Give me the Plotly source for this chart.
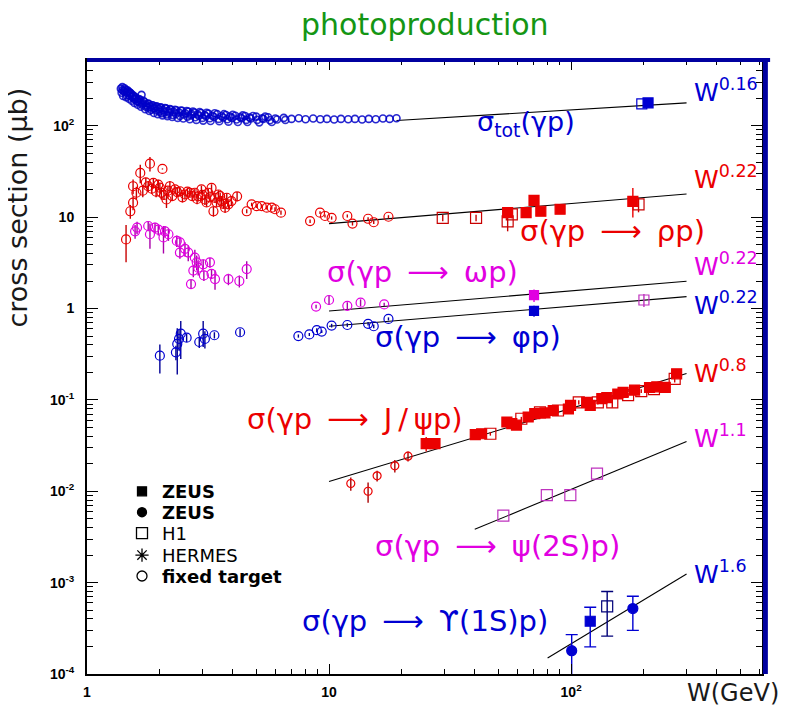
import numpy as np
import plotly.graph_objects as go

BLUE = 'rgb(0,0,210)'
RED = 'rgb(235,0,0)'
MAG = 'rgb(225,0,225)'
MAG2 = 'rgb(190,50,190)'
GREEN = 'rgb(20,150,20)'

# ---------------- data ----------------
# total photoproduction, fixed target (dense band)
tot_ft_W = [1.38, 1.40, 1.42, 1.44, 1.46, 1.48, 1.50, 1.52, 1.54, 1.56, 1.58, 1.60, 1.63, 1.66, 1.68,
            1.70, 1.73, 1.76, 1.80, 1.83, 1.87, 1.90, 1.94, 1.98, 2.02, 2.07, 2.12, 2.17, 2.22, 2.28,
            2.34, 2.40, 2.47, 2.54, 2.62, 2.70, 2.78, 2.87, 2.96, 3.06, 3.17, 3.30, 3.45, 3.60, 3.75,
            3.90, 4.10, 4.30, 4.50, 4.70, 5.00, 5.30, 5.60, 6.00, 6.50, 7.00, 7.50, 8.00, 8.60, 9.20,
            9.80, 10.5, 11.2, 12.0, 12.8, 13.7, 14.6, 15.6, 16.7, 17.8, 19.0]
tot_ft_S = [255, 265, 240, 250, 228, 238, 215, 225, 205, 212, 195, 200, 185, 192, 218,
            176, 182, 168, 174, 162, 168, 156, 163, 152, 159, 148, 155, 145, 151, 142,
            148, 140, 146, 137, 143, 135, 140, 133, 138, 131, 136, 129, 134, 127, 131,
            126, 129, 124, 128, 123, 126, 121, 124, 120, 122, 119, 121, 118, 120, 118,
            119, 117, 119, 118, 119, 117, 119, 118, 120, 119, 121]
tot_ft2_W = [1.39, 1.41, 1.43, 1.45, 1.47, 1.49, 1.51, 1.53, 1.55, 1.57, 1.59, 1.62, 1.64, 1.67, 1.71,
             1.74, 1.78, 1.81, 1.85, 1.89, 1.92, 1.96, 2.00, 2.05, 2.10, 2.15, 2.20, 2.25, 2.31, 2.37,
             2.44, 2.50, 2.58, 2.66, 2.74, 2.83, 2.92, 3.02, 3.12, 3.24, 3.37, 3.52, 3.68, 3.84, 4.00,
             4.20, 4.40, 4.60, 4.85, 5.15, 5.45, 5.80]
tot_ft2_S = [230, 212, 258, 205, 245, 198, 228, 188, 215, 178, 205, 170, 196, 162, 188,
             152, 175, 145, 168, 138, 162, 134, 158, 130, 156, 127, 152, 125, 150, 122,
             147, 120, 145, 118, 143, 116, 141, 114, 139, 113, 137, 112, 134, 111, 132,
             110, 130, 110, 128, 109, 126, 110]
tot_ft3_W = [1.40, 1.43, 1.46, 1.50, 1.53, 1.57, 1.61, 1.65, 1.69, 1.75, 1.79, 1.84, 1.88, 1.93, 1.99,
             2.04, 2.09, 2.14, 2.19, 2.26, 2.33, 2.42, 2.51, 2.60, 2.69, 2.80, 2.90, 3.00, 3.10, 3.22,
             3.35, 3.50, 3.65, 3.80, 3.97, 4.15, 4.35, 4.55, 4.75, 5.05, 5.35, 5.70, 6.10, 6.60]
tot_ft3_S = [245, 235, 215, 232, 208, 196, 186, 180, 170, 162, 158, 150, 155, 147, 143,
             137, 141, 133, 139, 131, 135, 128, 133, 126, 130, 124, 128, 122, 127, 121,
             125, 119, 123, 118, 122, 117, 121, 116, 120, 116, 119, 115, 117, 116]
tot_h1_W, tot_h1_S = [196], [174]
tot_zeus_W, tot_zeus_S = [208], [178]

# rho
rho_ft_W = [1.45, 1.51, 1.55, 1.55, 1.60, 1.66, 1.79, 1.82, 1.88, 1.97, 2.03, 2.05, 2.13, 2.20, 2.31,
            2.42, 2.54, 2.66, 2.79, 2.88, 2.97, 3.07, 3.17, 3.27, 3.38, 3.33, 3.49, 3.60, 3.72, 3.78,
            3.84, 4.17, 4.57, 4.79, 5.03, 5.27, 5.53, 5.80, 5.98, 6.33, 8.35, 9.18, 9.62, 10.25, 11.9,
            12.5, 14.5, 15.3, 17.6]
rho_ft_S = [5.7, 11.6, 14.4, 21.8, 18.5, 30.5, 21.8, 38.5, 23.7, 22.7, 18.5, 33.7, 15.6, 21.8, 20.1,
            19.2, 17.7, 18.5, 18.5, 16.9, 20.1, 15.6, 18.5, 20.9, 16.3, 11.6, 17.7, 15.0, 12.7, 16.3,
            13.8, 16.9, 11.6, 13.8, 13.2, 13.2, 12.7, 12.7, 12.2, 11.2, 9.05, 11.2, 10.3, 9.8, 10.3,
            8.5, 9.6, 8.8, 10.1]
rho_ft_E = [2.5, 2.0, 2.5, 4.0, 3.0, 7.0, 3.0, 7.0, 3.0, 3.0, 3.0, 0.5, 3.0, 3.0, 2.0,
            2.0, 2.0, 2.0, 2.0, 2.0, 2.0, 2.0, 2.0, 2.0, 2.0, 1.5, 2.0, 2.0, 1.5, 2.0,
            1.5, 2.0, 0.6, 0.6, 0.6, 0.6, 0.6, 0.6, 0.6, 0.6, 0.4, 0.4, 0.4, 0.4, 0.4,
            0.4, 0.4, 0.4, 0.4]
rho_ft2_W = [1.70, 1.75, 1.85, 1.93, 2.00, 2.08, 2.16, 2.25, 2.36, 2.48, 2.60, 2.72, 2.85, 3.00,
             3.12, 3.22, 3.43, 3.55, 3.66, 3.95]
rho_ft2_S = [19.5, 24.0, 20.5, 19.0, 21.0, 17.5, 19.5, 17.0, 18.8, 16.5, 19.0, 17.0, 15.8, 17.5,
             14.5, 16.5, 14.5, 17.0, 14.0, 15.0]
rho_ft2_E = [3.0, 3.0, 2.5, 2.5, 2.5, 2.0, 2.0, 2.0, 2.0, 2.0, 2.0, 2.0, 2.0, 2.0,
             1.5, 1.5, 1.5, 1.5, 1.5, 1.5]
rho_zeus_W = [54.7, 65.2, 70.3, 75.0, 90.1, 180]
rho_zeus_S = [11.2, 11.2, 15.3, 11.6, 12.2, 14.9]
rho_zeus_Ep = [1.2, 0.8, 1.5, 0.8, 0.8, 6.0]
rho_zeus_Em = [1.2, 0.8, 1.5, 0.8, 0.8, 5.0]
rho_h1_W = [29.5, 40.5, 54.7, 56.9, 190]
rho_h1_S = [9.8, 9.8, 9.0, 10.7, 13.8]
rho_h1_E = [0.8, 0.8, 2.0, 1.0, 2.5]

# omega
om_ft_W = [1.58, 1.61, 1.79, 1.82, 1.91, 1.97, 2.07, 2.10, 2.17, 2.35, 2.42, 2.42, 2.54, 2.62, 2.79,
           2.84, 2.88, 2.75, 3.02, 3.22, 3.04, 3.27, 3.38, 2.69, 3.84, 4.26, 4.57, 8.84, 10.0, 11.9,
           13.5, 16.9]
om_ft_S = [7.0, 7.7, 8.0, 6.5, 7.7, 7.3, 6.0, 7.0, 6.5, 5.5, 5.3, 4.1, 4.5, 4.1, 3.6,
           3.2, 2.8, 2.6, 3.05, 3.2, 2.3, 2.4, 2.1, 1.85, 2.1, 2.0, 2.7, 1.05, 1.24, 1.07,
           1.16, 1.11]
om_ft_E = [1.2, 1.2, 1.0, 2.0, 1.0, 1.0, 2.0, 1.0, 1.0, 0.8, 0.8, 0.6, 0.8, 0.8, 0.8,
           0.6, 0.5, 0.4, 0.4, 0.4, 0.3, 0.3, 0.5, 0.2, 0.3, 0.3, 0.6, 0.05, 0.15, 0.1,
           0.1, 0.05]
om_zeus_W, om_zeus_S, om_zeus_E = [70.3], [1.40], [0.22]
om_h1_W, om_h1_S, om_h1_E = [200], [1.24], [0.2]

# phi
phi_ft_W = [2.0, 2.33, 2.36, 2.40, 2.44, 2.58, 2.91, 3.02, 3.07, 3.36, 4.29, 7.47, 8.29, 8.9, 9.33,
            10.25, 11.9, 14.5, 15.3, 17.6]
phi_ft_S = [0.305, 0.332, 0.41, 0.465, 0.53, 0.48, 0.43, 0.53, 0.465, 0.51, 0.55, 0.50, 0.52, 0.58, 0.56,
            0.65, 0.66, 0.68, 0.64, 0.77]
phi_ft_Ep = [0.1, 0.06, 0.2, 0.12, 0.2, 0.05, 0.06, 0.2, 0.1, 0.04, 0.05, 0.02, 0.02, 0.03, 0.02,
             0.03, 0.03, 0.03, 0.03, 0.03]
phi_ft_Em = [0.11, 0.06, 0.22, 0.12, 0.25, 0.05, 0.06, 0.15, 0.1, 0.04, 0.05, 0.02, 0.02, 0.03, 0.02,
             0.03, 0.03, 0.03, 0.03, 0.03]
phi_zeus_W, phi_zeus_S, phi_zeus_E = [70.3], [0.944], [0.13]

# J/psi
jpsi_ft_W = [12.3, 14.5, 15.8, 18.7, 21.2]
jpsi_ft_S = [0.01216, 0.0100, 0.01476, 0.0190, 0.0242]
jpsi_ft_E = [0.002, 0.0025, 0.002, 0.003, 0.003]
jpsi_zeus_W = [25.2, 27.4, 40.2, 42.7, 54.3, 56.9, 59.5, 66.5, 70.8, 78.0, 84.4, 97.5, 99.5, 116,
               120, 134, 140.5, 156, 164, 183, 211, 226, 245, 273]
jpsi_zeus_S = [0.0332, 0.0332, 0.0416, 0.0426, 0.0573, 0.055, 0.053, 0.065, 0.0707, 0.072, 0.0765,
               0.0795, 0.087, 0.094, 0.087, 0.103, 0.106, 0.116, 0.121, 0.128, 0.1367, 0.139, 0.137,
               0.193]
jpsi_zeus_E = [0.006, 0.003, 0.002, 0.002, 0.003, 0.003, 0.003, 0.003, 0.003, 0.003, 0.003,
               0.004, 0.004, 0.004, 0.004, 0.005, 0.005, 0.005, 0.006, 0.006, 0.006, 0.007, 0.015,
               0.012]
jpsi_h1_W = [46.4, 62.3, 74.4, 88.3, 107.6, 129, 148, 172, 195, 220, 268]
jpsi_h1_S = [0.0426, 0.0622, 0.073, 0.0765, 0.094, 0.094, 0.094, 0.113, 0.125, 0.131, 0.17]
jpsi_h1_E = [0.002, 0.003, 0.004, 0.004, 0.005, 0.005, 0.012, 0.006, 0.006, 0.007, 0.015]

# psi(2S)
psi2_h1_W = [52.5, 79.4, 99.3, 128]
psi2_h1_S = [0.0054, 0.00906, 0.00906, 0.0156]

# Upsilon(1S)
ups_zc_W = [100.6, 180]
ups_zc_S = [1.8e-4, 5.2e-4]
ups_zc_Ep = [0.9e-4, 1.9e-4]
ups_zc_Em = [1.75e-4, 2.2e-4]
ups_zs_W, ups_zs_S, ups_zs_Ep, ups_zs_Em = [120], [3.78e-4], [1.6e-4], [1.8e-4]
ups_h1_W, ups_h1_S, ups_h1_Ep, ups_h1_Em = [141], [5.5e-4], [2.5e-4], [2.9e-4]

# power-law fits  sigma = norm * (W/100)^delta
fit_delta = [0.16, 0.22, 0.22, 0.22, 0.8, 1.1, 1.6]
fit_norm = [149.3, 14.1, 1.56, 1.06, 0.0808, 0.01049, 2.14e-4]
fit_wmin = [19, 10, 10, 10, 10, 40, 80]
fit_wmax = [300, 300, 300, 300, 300, 300, 300]
fit_labels = ['0.16', '0.22', '0.22', '0.22', '0.8', '1.1', '1.6']
fit_colors = [BLUE, RED, MAG, BLUE, RED, MAG, BLUE]

# legend
leg_names = ['<b>ZEUS</b>', '<b>ZEUS</b>', 'H1', 'HERMES', '<b>fixed target</b>']
leg_syms = ['square', 'circle', 'square-open', 'asterisk-open', 'circle-open']
leg_sizes = [9, 9, 11, 11, 10]

# ---------------- figure ----------------
fig = go.Figure()


def add(x, y, sym, color, size, ep=None, em=None, capw=0, lw=1.2, ecolor=None):
    tr = go.Scatter(x=x, y=y, mode='markers', showlegend=False, hoverinfo='skip',
                    marker=dict(symbol=sym, size=size, color=color,
                                line=dict(color=color, width=lw)))
    if ep is not None:
        tr.error_y = dict(type='data', symmetric=False, array=ep,
                          arrayminus=em if em is not None else ep,
                          color=ecolor or color, thickness=1.4, width=capw)
    fig.add_trace(tr)


# fit lines
for d, n, a, b in zip(fit_delta, fit_norm, fit_wmin, fit_wmax):
    w = np.geomspace(a, b, 30)
    fig.add_trace(go.Scatter(x=w, y=n * (w / 100.0) ** d, mode='lines', showlegend=False,
                             hoverinfo='skip', line=dict(color='black', width=1.1)))

# total
add(tot_ft3_W, tot_ft3_S, 'circle-open', 'rgba(0,0,190,0.8)', 7, lw=1.6)
add(tot_ft2_W, tot_ft2_S, 'circle-open', 'rgba(0,0,200,0.8)', 7, lw=1.6)
add(tot_ft_W, tot_ft_S, 'circle-open', 'rgba(0,0,200,0.85)', 7, lw=1.6)
add(tot_h1_W, tot_h1_S, 'square-open', BLUE, 10)
add(tot_zeus_W, tot_zeus_S, 'square', BLUE, 10)
# rho
add(rho_ft2_W, rho_ft2_S, 'circle-open', RED, 9, rho_ft2_E, ecolor='rgb(200,0,0)')
add(rho_ft_W, rho_ft_S, 'circle-open', RED, 9, rho_ft_E, ecolor='rgb(200,0,0)')
add(rho_h1_W, rho_h1_S, 'square-open', 'rgb(200,0,0)', 11, rho_h1_E)
add(rho_zeus_W, rho_zeus_S, 'square', RED, 10, rho_zeus_Ep, rho_zeus_Em)
# omega
add(om_ft_W, om_ft_S, 'circle-open', MAG, 9, om_ft_E, ecolor='rgb(170,0,170)')
add(om_zeus_W, om_zeus_S, 'square', MAG, 9, om_zeus_E)
add(om_h1_W, om_h1_S, 'square-open', MAG2, 10, om_h1_E)
# phi
add(phi_ft_W, phi_ft_S, 'circle-open', BLUE, 9, phi_ft_Ep, phi_ft_Em, ecolor='rgb(0,0,150)')
add(phi_zeus_W, phi_zeus_S, 'square', BLUE, 9, phi_zeus_E)
# J/psi
add(jpsi_ft_W, jpsi_ft_S, 'circle-open', RED, 8, jpsi_ft_E, ecolor='rgb(170,0,0)')
add(jpsi_h1_W, jpsi_h1_S, 'square-open', 'rgb(210,0,0)', 11, jpsi_h1_E)
add(jpsi_zeus_W, jpsi_zeus_S, 'square', RED, 10, jpsi_zeus_E)
# psi(2S)
add(psi2_h1_W, psi2_h1_S, 'square-open', MAG2, 11)
# Upsilon
add(ups_zc_W, ups_zc_S, 'circle', BLUE, 10, ups_zc_Ep, ups_zc_Em, capw=6)
add(ups_zs_W, ups_zs_S, 'square', BLUE, 10, ups_zs_Ep, ups_zs_Em, capw=6)
add(ups_h1_W, ups_h1_S, 'square-open', 'rgb(0,0,120)', 11, ups_h1_Ep, ups_h1_Em, capw=6)

# ---------------- layout ----------------
# the page body has an 8 px margin; positions below are in page pixels
OFF = 8
FW, FH = 789 - OFF, 712 - OFF
L, R, T, B = 87 - OFF, 27, 60 - OFF, 36
PW, PH = FW - L - R, FH - T - B


def px(x):
    return (x - OFF - L) / PW


def py(y):
    return (OFF + T + PH - y) / PH


# one legend box per entry so that rows sit exactly where the reference has them
leg_rows = [493, 514, 535, 557, 578]
leg_keys = ['legend', 'legend2', 'legend3', 'legend4', 'legend5']
for nm, sy, sz, key in zip(leg_names, leg_syms, leg_sizes, leg_keys):
    fig.add_trace(go.Scatter(x=[None], y=[None], mode='markers', name=nm, legend=key,
                             marker=dict(symbol=sy, size=sz, color='black',
                                         line=dict(color='black', width=1.3))))
legends = {}
for key, row in zip(leg_keys, leg_rows):
    legends[key] = dict(x=px(122), y=py(row), xanchor='left', yanchor='middle',
                        bgcolor='rgba(0,0,0,0)', borderwidth=0,
                        font=dict(family='DejaVu Sans', size=18, color='black'),
                        itemsizing='trace')

x_minor = [m * 10 ** e for e in range(0, 3) for m in range(2, 10) if m * 10 ** e < 620]
y_minor = [m * 10.0 ** e for e in range(-4, 3) for m in range(2, 10) if m * 10.0 ** e < 520]

tick_font = dict(family='Liberation Sans', size=14, color='black')

fig.update_layout(
    width=FW, height=FH,
    margin=dict(l=L, r=R, t=T, b=B),
    paper_bgcolor='white', plot_bgcolor='white',
    showlegend=True,
    **legends,
    xaxis=dict(type='log', range=[0, np.log10(615)], showgrid=False, zeroline=False,
               showline=True, linecolor='black', linewidth=2, mirror='ticks',
               ticks='inside', ticklen=10, tickwidth=1, tickcolor='black',
               tickvals=[1, 10, 100], ticktext=['<b>1</b>', '<b>10</b>', '<b>10<sup>2</sup></b>'],
               tickfont=tick_font, ticklabelstandoff=4,
               minor=dict(ticks='inside', ticklen=5, tickwidth=1, tickcolor='black',
                          tickvals=x_minor, showgrid=False)),
    yaxis=dict(type='log', range=[-4, 2.72], showgrid=False, zeroline=False,
               showline=True, linecolor='black', linewidth=2, mirror='ticks',
               ticks='inside', ticklen=11, tickwidth=1, tickcolor='black',
               tickvals=[1e-4, 1e-3, 1e-2, 1e-1, 1, 10, 100],
               ticktext=['<b>10<sup>-4</sup></b>', '<b>10<sup>-3</sup></b>', '<b>10<sup>-2</sup></b>',
                         '<b>10<sup>-1</sup></b>', '<b>1</b>', '<b>10</b>', '<b>10<sup>2</sup></b>'],
               tickfont=tick_font, ticklabelstandoff=8,
               minor=dict(ticks='inside', ticklen=6, tickwidth=1, tickcolor='black',
                          tickvals=y_minor, showgrid=False)),
)

# blue frame on top and right
fig.add_shape(type='line', xref='paper', yref='paper', x0=0, x1=1.012, y0=1, y1=1,
              line=dict(color='rgb(0,0,160)', width=4), layer='above')
fig.add_shape(type='line', xref='paper', yref='paper', x0=1.005, x1=1.005, y0=0, y1=1,
              line=dict(color='rgb(0,0,160)', width=5), layer='above')

ann = []
# title
ann.append(dict(text='photoproduction', x=px(425), y=py(24), xref='paper', yref='paper',
                showarrow=False, xanchor='center', yanchor='middle', borderpad=0,
                font=dict(family='DejaVu Sans', size=30, color=GREEN)))
# axis titles
ann.append(dict(text='cross section (μb)', x=px(18), y=py(208), xref='paper', yref='paper',
                showarrow=False, textangle=-90, xanchor='center', yanchor='middle', borderpad=0,
                font=dict(family='DejaVu Sans', size=27, color='rgb(25,25,25)')))
ann.append(dict(text='W(GeV)', x=px(733), y=py(695), xref='paper', yref='paper',
                showarrow=False, xanchor='center', yanchor='middle',
                font=dict(family='DejaVu Sans', size=24, color='rgb(25,25,25)')))

# power-law labels
w_label_y = [91, 178, 265, 304, 373, 438, 574]
for lab, col, yy in zip(fit_labels, fit_colors, w_label_y):
    ann.append(dict(text='W<sup>' + lab + '</sup>', x=px(692), y=py(yy), xref='paper', yref='paper',
                    showarrow=False, xanchor='left', yanchor='middle',
                    font=dict(family='DejaVu Sans', size=25, color=col)))

# process labels
SP = '\u00a0'
TH = '\u2009'
ARROW = SP + TH + '⟶' + SP + TH
proc_text = ['σ<sub>tot</sub>(γp)',
             'σ(γp' + ARROW + 'ρp)',
             'σ(γp' + ARROW + 'ωp)',
             'σ(γp' + ARROW + 'φp)',
             'σ(γp' + ARROW + 'J' + TH + '/' + TH + 'ψp)',
             'σ(γp' + ARROW + 'ψ(2S)p)',
             'σ(γp' + ARROW + 'ϒ(1S)p)']
proc_col = [BLUE, RED, MAG, BLUE, RED, MAG, BLUE]
proc_x = [475, 518, 325, 373, 245, 373, 300]
proc_y = [124, 232, 273, 338, 420, 548, 623]
proc_size = [27, 29, 29, 29, 29, 29, 29]
for t, c, xx, yy, fs in zip(proc_text, proc_col, proc_x, proc_y, proc_size):
    ann.append(dict(text=t, x=px(xx), y=py(yy), xref='paper', yref='paper',
                    showarrow=False, xanchor='left', yanchor='middle',
                    font=dict(family='DejaVu Sans', size=fs, color=c)))

fig.update_layout(annotations=ann)
fig.write_html('out.html')
